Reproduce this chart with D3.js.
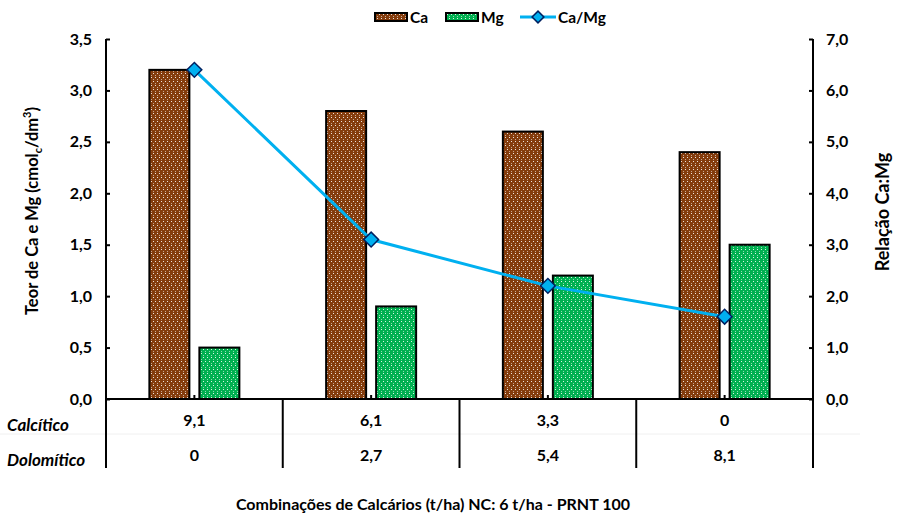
<!DOCTYPE html>
<html>
<head>
<meta charset="utf-8">
<script src="https://cdn.jsdelivr.net/npm/d3@7"></script>
<style>
  body { margin: 0; background: #fff; }
  text { font-family: Lato, "Open Sans", sans-serif; font-weight: bold; fill: #000; }
</style>
</head>
<body>
<script>
// data
var categories = ["A", "B", "C", "D"];
var caValues = [3.2, 2.8, 2.6, 2.4];
var mgValues = [0.5, 0.9, 1.2, 1.5];
var ratioValues = [6.4, 3.1, 2.2, 1.6];
var calciticoRow = ["9,1", "6,1", "3,3", "0"];
var dolomiticoRow = ["0", "2,7", "5,4", "8,1"];
var leftTicks = [0, 0.5, 1, 1.5, 2, 2.5, 3, 3.5];
var rightTicks = [0, 1, 2, 3, 4, 5, 6, 7];

var W = 906, H = 515;
var plot = {left: 106, right: 813, top: 39, bottom: 399};

var svg = d3.select("body").append("svg")
    .attr("width", W)
    .attr("height", H);

// dotted fill patterns
var defs = svg.append("defs");
function dotPattern(id, color) {
    var p = defs.append("pattern")
        .attr("id", id)
        .attr("patternUnits", "userSpaceOnUse")
        .attr("width", 8)
        .attr("height", 8);
    p.append("rect").attr("width", 8).attr("height", 8).attr("fill", color);
    [[1, 1], [5, 1], [3, 5], [7, 5]].forEach(function(d) {
        p.append("rect").attr("x", d[0]).attr("y", d[1])
            .attr("width", 1).attr("height", 1).attr("fill", "#fff").attr("opacity", 0.85);
    });
    [[3, 3], [7, 3], [1, 7], [5, 7]].forEach(function(d) {
        p.append("rect").attr("x", d[0]).attr("y", d[1])
            .attr("width", 1).attr("height", 1).attr("fill", "#fff").attr("opacity", 0.55);
    });
}
dotPattern("caFill", "#843C0C");
dotPattern("mgFill", "#00B050");

var x = d3.scaleBand().domain(categories).range([plot.left, plot.right]);
var yLeft = d3.scaleLinear().domain([0, 3.5]).range([plot.bottom, plot.top]);
var yRight = d3.scaleLinear().domain([0, 7]).range([plot.bottom, plot.top]);

var barW = 40, gap = 10;

// bars
svg.append("g").selectAll("rect")
    .data(caValues)
    .enter().append("rect")
    .attr("x", function(d, i) { return x(categories[i]) + x.bandwidth() / 2 - gap / 2 - barW; })
    .attr("y", function(d) { return yLeft(d); })
    .attr("width", barW)
    .attr("height", function(d) { return yLeft(0) - yLeft(d); })
    .attr("fill", "url(#caFill)")
    .attr("stroke", "#000")
    .attr("stroke-width", 2);

svg.append("g").selectAll("rect")
    .data(mgValues)
    .enter().append("rect")
    .attr("x", function(d, i) { return x(categories[i]) + x.bandwidth() / 2 + gap / 2; })
    .attr("y", function(d) { return yLeft(d); })
    .attr("width", barW)
    .attr("height", function(d) { return yLeft(0) - yLeft(d); })
    .attr("fill", "url(#mgFill)")
    .attr("stroke", "#000")
    .attr("stroke-width", 2);

// axes
var fmt = function(d) { return d3.format(".1f")(d).replace(".", ","); };

var leftAxis = svg.append("g")
    .attr("transform", "translate(" + plot.left + ",0)")
    .call(d3.axisRight(yLeft).tickValues(leftTicks).tickSize(4).tickFormat(fmt));
leftAxis.selectAll("text").attr("x", -14).attr("text-anchor", "end");

var rightAxis = svg.append("g")
    .attr("transform", "translate(" + plot.right + ",0)")
    .call(d3.axisLeft(yRight).tickValues(rightTicks).tickSize(4).tickFormat(fmt));
rightAxis.selectAll("text").attr("x", 13).attr("text-anchor", "start");

[leftAxis, rightAxis].forEach(function(a) {
    a.select(".domain").attr("stroke-width", 2).attr("d",
        "M0," + (plot.top) + "V" + plot.bottom);
    a.selectAll(".tick line").attr("stroke-width", 2);
    a.selectAll("text").style("font-size", "16px").style("font-family", "Lato, sans-serif")
        .style("font-weight", "bold").attr("fill", "#000");
});

// x axis line + category ticks
svg.append("line")
    .attr("x1", plot.left).attr("x2", plot.right)
    .attr("y1", plot.bottom).attr("y2", plot.bottom)
    .attr("stroke", "#000").attr("stroke-width", 2);

svg.append("g").selectAll("line")
    .data(categories)
    .enter().append("line")
    .attr("x1", function(d) { return x(d) + x.bandwidth() / 2; })
    .attr("x2", function(d) { return x(d) + x.bandwidth() / 2; })
    .attr("y1", plot.bottom).attr("y2", plot.bottom - 4)
    .attr("stroke", "#000").attr("stroke-width", 2);

// table under the axis
var rowY1 = 426, rowY2 = 461, tableBottom = 468;
svg.append("line")
    .attr("x1", 0).attr("x2", 860)
    .attr("y1", 434).attr("y2", 434)
    .attr("stroke", "#f0f0f0").attr("stroke-width", 1);

var bounds = categories.map(function(d) { return x(d); }).concat([plot.right]);
svg.append("g").selectAll("line")
    .data(bounds)
    .enter().append("line")
    .attr("x1", function(d) { return d; }).attr("x2", function(d) { return d; })
    .attr("y1", plot.bottom).attr("y2", tableBottom)
    .attr("stroke", "#000").attr("stroke-width", 2);

function tableRow(vals, y) {
    svg.append("g").selectAll("text")
        .data(vals)
        .enter().append("text")
        .attr("x", function(d, i) { return x(categories[i]) + x.bandwidth() / 2; })
        .attr("y", y)
        .attr("text-anchor", "middle")
        .style("font-size", "16px")
        .text(function(d) { return d; });
}
tableRow(calciticoRow, rowY1);
tableRow(dolomiticoRow, rowY2);

svg.append("text").attr("x", 7).attr("y", rowY1 + 5)
    .style("font-size", "17px").style("font-style", "italic").text("Calcítico");
svg.append("text").attr("x", 7).attr("y", rowY2 + 5)
    .style("font-size", "17px").style("font-style", "italic").text("Dolomítico");

// ratio line
var line = d3.line()
    .x(function(d, i) { return x(categories[i]) + x.bandwidth() / 2; })
    .y(function(d) { return yRight(d); });

svg.append("path")
    .datum(ratioValues)
    .attr("d", line)
    .attr("fill", "none")
    .attr("stroke", "#00B0F0")
    .attr("stroke-width", 3);

var diamond = d3.symbol().type(d3.symbolSquare).size(110);
svg.append("g").selectAll("path")
    .data(ratioValues)
    .enter().append("path")
    .attr("d", diamond)
    .attr("transform", function(d, i) {
        return "translate(" + (x(categories[i]) + x.bandwidth() / 2) + "," + yRight(d) + ") rotate(45)";
    })
    .attr("fill", "#00B0F0")
    .attr("stroke", "#002060")
    .attr("stroke-width", 1.5);

// axis titles
var leftTitle = svg.append("text")
    .attr("transform", "translate(38,211) rotate(-90)")
    .attr("text-anchor", "middle")
    .style("font-size", "16.5px");
leftTitle.append("tspan").text("Teor de Ca e Mg (cmol");
leftTitle.append("tspan").attr("dy", 4).style("font-size", "11px").text("c");
leftTitle.append("tspan").attr("dy", -4).text("/dm");
leftTitle.append("tspan").attr("dy", -7).style("font-size", "11px").text("3");
leftTitle.append("tspan").attr("dy", 7).text(")");

svg.append("text")
    .attr("transform", "translate(889,212) rotate(-90)")
    .attr("text-anchor", "middle")
    .style("font-size", "18px")
    .text("Relação Ca:Mg");

svg.append("text")
    .attr("x", 433).attr("y", 510)
    .attr("text-anchor", "middle")
    .style("font-size", "16px")
    .text("Combinações de Calcários (t/ha) NC: 6 t/ha - PRNT 100");

// legend
var legend = svg.append("g").attr("transform", "translate(0,17)");
legend.append("rect").attr("x", 375).attr("y", -4).attr("width", 32).attr("height", 8)
    .attr("fill", "url(#caFill)").attr("stroke", "#000").attr("stroke-width", 2);
legend.append("text").attr("x", 410).attr("y", 5.5).style("font-size", "15.5px").text("Ca");
legend.append("rect").attr("x", 446).attr("y", -4).attr("width", 32).attr("height", 8)
    .attr("fill", "url(#mgFill)").attr("stroke", "#000").attr("stroke-width", 2);
legend.append("text").attr("x", 481).attr("y", 5.5).style("font-size", "15.5px").text("Mg");
legend.append("line").attr("x1", 520).attr("x2", 556).attr("y1", 0).attr("y2", 0)
    .attr("stroke", "#00B0F0").attr("stroke-width", 3);
legend.append("path").attr("d", d3.symbol().type(d3.symbolSquare).size(70))
    .attr("transform", "translate(538,0) rotate(45)")
    .attr("fill", "#00B0F0").attr("stroke", "#002060").attr("stroke-width", 1.5);
legend.append("text").attr("x", 558).attr("y", 5.5).style("font-size", "15.5px").text("Ca/Mg");
</script>
</body>
</html>
